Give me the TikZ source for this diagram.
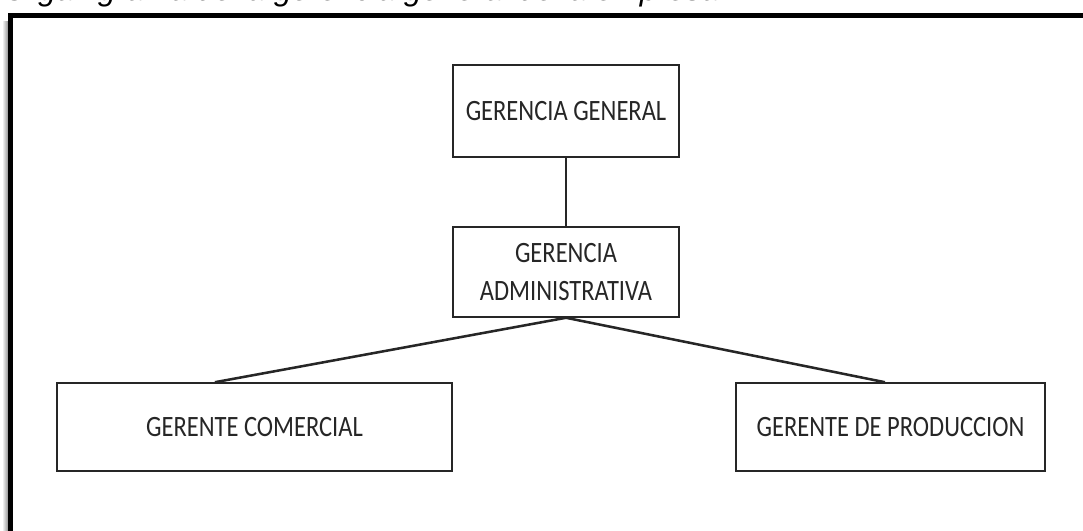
\documentclass[tikz,border=0pt]{standalone}
\usepackage{fontspec}
\setmainfont{Carlito}[FakeStretch=0.83]
\newfontfamily\leyenda{Liberation Sans}
\usetikzlibrary{positioning}

\begin{document}
\begin{tikzpicture}[x=0.025cm,y=-0.025cm,
    caja/.style={draw=black!85,line width=1.1pt,fill=white,inner sep=0pt,
      align=center,text=black!85,font=\fontsize{21}{27}\selectfont},
    linea/.style={black!85,line width=1.1pt}]
        %colores
        \colorlet{sombra}{black!45}

        \useasboundingbox (0,0) rectangle (1083,531);

        % titulo cortado arriba
        \begin{scope}
            \clip (0,0) rectangle (1083,531);
            \node[anchor=base west,inner sep=0pt,font=\leyenda\itshape\fontsize{22.5}{27}\selectfont]
              (titulo) at (3,0.8) {Organigrama de la gerencia general de la empresa};
        \end{scope}

        % marco y sombra
        \shade[left color=white,right color=sombra] (2,22) rectangle (8.4,531);
        \draw[line width=0.125cm,miter limit=10] (10.8,531) -- (10.8,15.8) -- (1083,15.8);

        % cajas
        \node[caja,minimum width=5.65cm,minimum height=2.3cm] (gg) at (566,111) {GERENCIA GENERAL};
        \node[caja,minimum width=5.65cm,minimum height=2.25cm] (adm) at (566,272) {GERENCIA\\ADMINISTRATIVA};
        \node[caja,minimum width=9.875cm,minimum height=2.2cm] (com) at (254.5,427) {GERENTE COMERCIAL};
        \node[caja,minimum width=7.725cm,minimum height=2.2cm] (prod) at (890.5,427) {GERENTE DE PRODUCCION};

        % lineas
        \draw[linea] (gg) -- (adm);
        \draw[linea,line width=1.8pt] (adm.south) -- ([xshift=-0.99cm]com.north);
        \draw[linea,line width=1.8pt] (adm.south) -- ([xshift=-0.14cm]prod.north);
    \end{tikzpicture}
\end{document}
